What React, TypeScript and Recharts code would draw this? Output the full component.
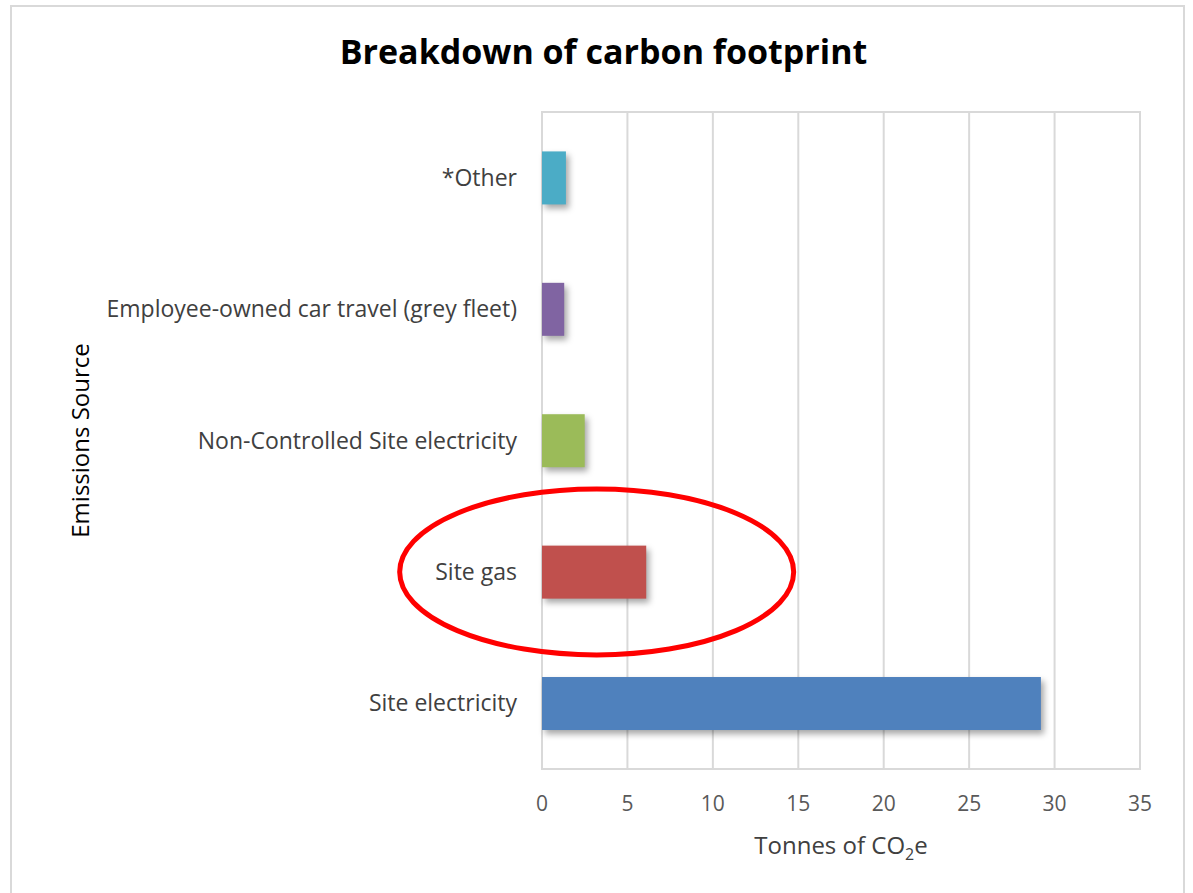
import { BarChart, Bar, XAxis, YAxis, CartesianGrid, Cell, ReferenceArea, ReferenceDot } from 'recharts';

const sources = [
  '*Other',
  'Employee-owned car travel (grey fleet)',
  'Non-Controlled Site electricity',
  'Site gas',
  'Site electricity',
];
const tonnes = [1.4, 1.3, 2.5, 6.1, 29.2];
const barColors = ['#4BACC6', '#8064A2', '#9BBB59', '#C0504D', '#4F81BD'];
const xTicks = [0, 5, 10, 15, 20, 25, 30, 35];

const data = sources.map((name, i) => ({ name, value: tonnes[i] }));

const FONT = '"Open Sans", Lato, sans-serif';

const ShadowBar = (props: any) => {
  const { x, y, width, height, fill } = props;
  return (
    <rect
      x={x}
      y={y}
      width={width}
      height={height}
      fill={fill}
      style={{ filter: 'drop-shadow(3px 4px 3px rgba(0,0,0,0.35))' }}
    />
  );
};

const XLabel = (props: any) => {
  const vb = props.viewBox;
  const cx = vb.x + vb.width / 2;
  return (
    <text x={cx} y={vb.y + 85} textAnchor="middle" fill="#404040" fontSize={24} fontFamily={FONT}>
      Tonnes of CO<tspan fontSize={16} dy={6}>2</tspan>
      <tspan dy={-6}>e</tspan>
    </text>
  );
};

const Ellipse = (props: any) => (
  <ellipse cx={props.cx} cy={props.cy} rx={197} ry={83} fill="none" stroke="#FF0000" strokeWidth={5} />
);

export default function App() {
  return (
    <div style={{ position: 'absolute', left: 0, top: 0, width: 1193, height: 893, overflow: 'hidden', background: '#fff' }}>
      <div
        style={{
          position: 'absolute',
          left: 10,
          top: 5,
          width: 1175,
          height: 900,
          border: '2px solid #d9d9d9',
          boxSizing: 'border-box',
        }}
      />
      <div
        style={{
          position: 'absolute',
          left: 0,
          top: 28,
          width: 1193,
          textAlign: 'center',
          fontFamily: FONT,
          fontWeight: 700,
          fontSize: 34,
          color: '#000',
          paddingLeft: 14,
          boxSizing: 'border-box',
        }}
      >
        Breakdown of carbon footprint
      </div>
      <div style={{ position: 'absolute', left: 0, top: 0 }}>
        <BarChart
          width={1193}
          height={893}
          data={data}
          layout="vertical"
          margin={{ top: 112, right: 53, bottom: 0, left: 0 }}
          barCategoryGap="30%"
        >
          <CartesianGrid horizontal={false} stroke="#d9d9d9" strokeWidth={2} />
          <XAxis
            type="number"
            domain={[0, 35]}
            ticks={xTicks}
            interval={0}
            axisLine={{ stroke: '#d9d9d9', strokeWidth: 2 }}
            tickLine={false}
            tickMargin={21}
            tick={{ fill: '#595959', fontSize: 21, fontFamily: FONT }}
            height={124}
            label={<XLabel />}
          />
          <YAxis
            type="category"
            dataKey="name"
            width={542}
            axisLine={false}
            tickLine={false}
            tickSize={0}
            tickMargin={25}
            tick={{ fill: '#404040', fontSize: 23, fontFamily: FONT }}
            label={{
              value: 'Emissions Source',
              angle: -90,
              position: 'insideLeft',
              offset: 80,
              fill: '#000',
              fontSize: 24,
              fontFamily: FONT,
              style: { textAnchor: 'middle' },
            }}
          />
          <ReferenceArea x1={0} x2={35} fill="none" stroke="#d9d9d9" strokeWidth={2} ifOverflow="visible" />
          <Bar dataKey="value" isAnimationActive={false} shape={ShadowBar}>
            {data.map((d, i) => (
              <Cell key={d.name} fill={barColors[i]} />
            ))}
          </Bar>
          <ReferenceDot x={3.2} y="Site gas" r={1} ifOverflow="visible" shape={Ellipse} />
        </BarChart>
      </div>
    </div>
  );
}
